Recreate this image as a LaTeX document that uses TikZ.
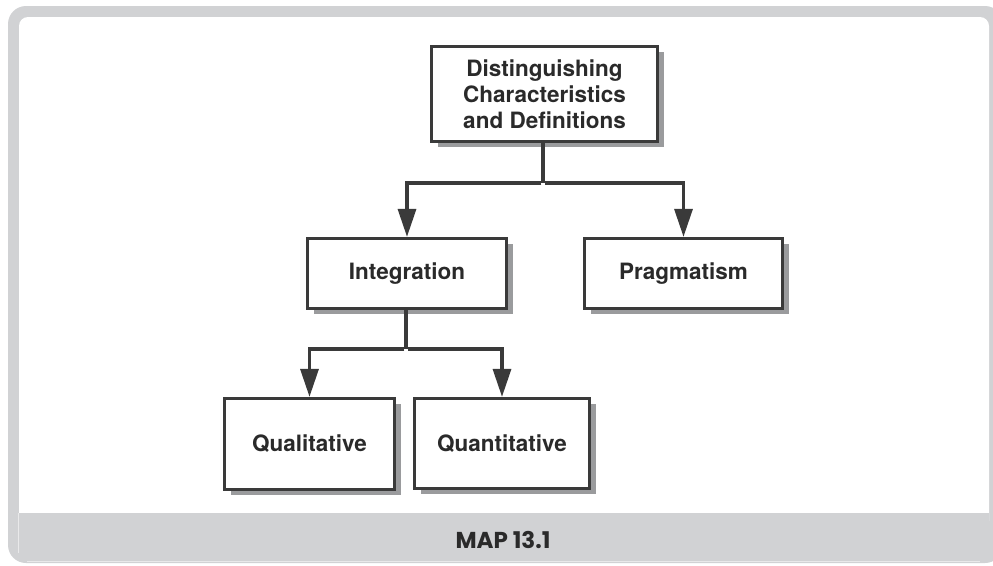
\documentclass[tikz,border=0pt]{standalone}
\usepackage{fontspec}
\setsansfont{TeX Gyre Heros}
\newfontfamily\capfont{Poppins}
\usetikzlibrary{arrows.meta,shadows}
\definecolor{framegray}{HTML}{D1D2D4}
\definecolor{framelight}{HTML}{E9E9EA}
\definecolor{inkgray}{HTML}{3A3A3A}
\definecolor{textgray}{HTML}{2A2A2A}
\definecolor{shadowgray}{HTML}{9A9B9D}
\begin{document}
\begin{tikzpicture}[x=1pt,y=-1pt,
  conceptbox/.style={draw=inkgray, line width=3.3pt, fill=white,
    text=textgray, font=\sffamily\bfseries\fontsize{22.5}{26}\selectfont,
    align=center, inner sep=0pt,
    drop shadow={shadow xshift=6pt, shadow yshift=-5pt, fill=shadowgray, opacity=1}},
  captext/.style={text=textgray, font=\capfont\bfseries\fontsize{23}{26}\selectfont},
  link/.style={draw=inkgray, line width=3.3pt},
  arrowlink/.style={link, -{Triangle[width=18pt,length=28pt]}}]
  \useasboundingbox (0,0) rectangle (993,565);
  \begin{scope}
    \clip (0,0) rectangle (993,565);
    % outer frame and white panel
    \fill[framegray, rounded corners=18pt] (8,6) rectangle (1003,563);
    \fill[white, rounded corners=9pt] (19,17) rectangle (989,530);
    \fill[framegray] (19,513) rectangle (989,531);
    \draw[framelight, line width=1pt] (18.5,513) -- (18.5,553);
    \draw[framelight, line width=1pt] (27,561) -- (980,561);
  \end{scope}
  \node[captext] (cap) at (503,540) {MAP 13.1};

  % concept boxes
  \node[conceptbox, minimum width=226pt, minimum height=95pt] (def) at (544.5,94)
    {Distinguishing\\Characteristics\\and Definitions};
  \node[conceptbox, minimum width=199pt, minimum height=70pt] (integ) at (407,273.5) {Integration};
  \node[conceptbox, minimum width=198pt, minimum height=70pt] (prag) at (683.5,273.5) {Pragmatism};
  \node[conceptbox, minimum width=170pt, minimum height=91pt] (qual) at (309.5,444) {Qualitative};
  \node[conceptbox, minimum width=175pt, minimum height=90pt] (quant) at (502,443.5) {Quantitative};

  % connectors
  \coordinate (j1) at (543,183);
  \coordinate (j2) at (406,349);
  \draw[link] (def.south -| j1) -- (j1);
  \draw[arrowlink] ([xshift=-1.6pt]j1) -| (integ.north);
  \draw[arrowlink] ([xshift=1.6pt]j1) -| (prag.north);
  \draw[link] (integ.south -| j2) -- (j2);
  \draw[arrowlink] ([xshift=-1.6pt]j2) -| (qual.north);
  \draw[arrowlink] ([xshift=1.6pt]j2) -| (quant.north);
\end{tikzpicture}
\end{document}
